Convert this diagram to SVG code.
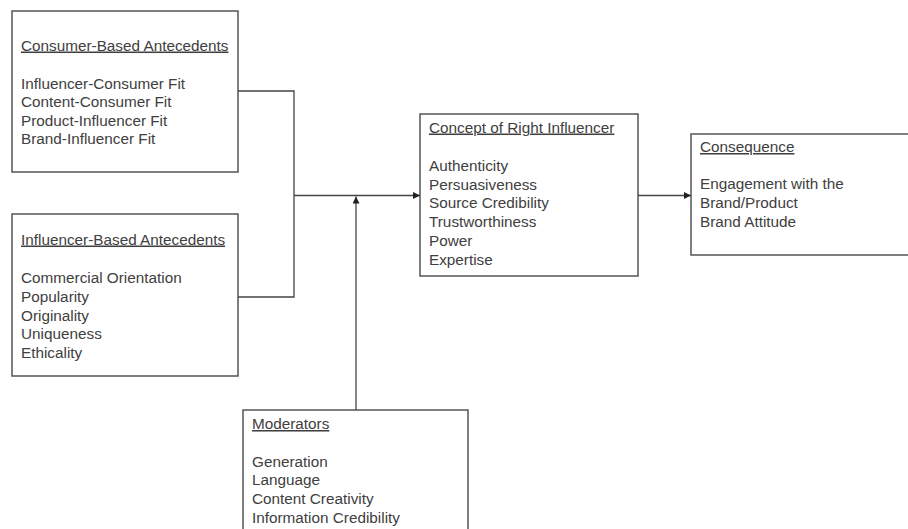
<svg xmlns="http://www.w3.org/2000/svg" width="908" height="529" viewBox="0 0 908 529">
<defs>
<marker id="ah" viewBox="0 0 10 10" refX="10" refY="5" markerWidth="7" markerHeight="7" markerUnits="userSpaceOnUse" orient="auto">
<path d="M0,0 L10,5 L0,10 z" fill="#222"/>
</marker>
</defs>
<style>
.box{fill:#fff;stroke:#555;stroke-width:1.5}
.t{font-family:"Liberation Sans",Arial,sans-serif;font-size:15.3px;fill:#404040}
.h{text-decoration:underline}
.c{fill:none;stroke:#444;stroke-width:1.3}
</style>
<rect width="908" height="529" fill="#fff"/>
<g id="consumer">
<rect class="box" x="12" y="11" width="226" height="161"/>
<text class="t h" x="21" y="50.5">Consumer-Based Antecedents</text>
<text class="t" x="21" y="88.5">Influencer-Consumer Fit</text>
<text class="t" x="21" y="107">Content-Consumer Fit</text>
<text class="t" x="21" y="125.5">Product-Influencer Fit</text>
<text class="t" x="21" y="144">Brand-Influencer Fit</text>
</g>
<g id="influencer">
<rect class="box" x="12" y="214" width="226" height="162"/>
<text class="t h" x="21" y="244.5">Influencer-Based Antecedents</text>
<text class="t" x="21" y="282.5">Commercial Orientation</text>
<text class="t" x="21" y="301.5">Popularity</text>
<text class="t" x="21" y="320.5">Originality</text>
<text class="t" x="21" y="339">Uniqueness</text>
<text class="t" x="21" y="357.5">Ethicality</text>
</g>
<g id="concept">
<rect class="box" x="420" y="114" width="218" height="162"/>
<text class="t h" x="429" y="132.5">Concept of Right Influencer</text>
<text class="t" x="429" y="170.5">Authenticity</text>
<text class="t" x="429" y="189.5">Persuasiveness</text>
<text class="t" x="429" y="208">Source Credibility</text>
<text class="t" x="429" y="227">Trustworthiness</text>
<text class="t" x="429" y="245.5">Power</text>
<text class="t" x="429" y="264.5">Expertise</text>
</g>
<g id="consequence">
<rect class="box" x="691" y="134" width="230" height="121"/>
<text class="t h" x="700" y="152">Consequence</text>
<text class="t" x="700" y="189">Engagement with the</text>
<text class="t" x="700" y="208">Brand/Product</text>
<text class="t" x="700" y="226.5">Brand Attitude</text>
</g>
<g id="moderators">
<rect class="box" x="243" y="410" width="225" height="130"/>
<text class="t h" x="252" y="429">Moderators</text>
<text class="t" x="252" y="466.5">Generation</text>
<text class="t" x="252" y="485">Language</text>
<text class="t" x="252" y="504">Content Creativity</text>
<text class="t" x="252" y="522.5">Information Credibility</text>
</g>
<g id="connectors">
<polyline class="c" points="238,91 294,91 294,297 238,297"/>
<line class="c" x1="294" y1="195.5" x2="420" y2="195.5" marker-end="url(#ah)"/>
<line class="c" x1="356" y1="410" x2="356" y2="196.5" marker-end="url(#ah)"/>
<line class="c" x1="638" y1="195.5" x2="691" y2="195.5" marker-end="url(#ah)"/>
</g>
</svg>
